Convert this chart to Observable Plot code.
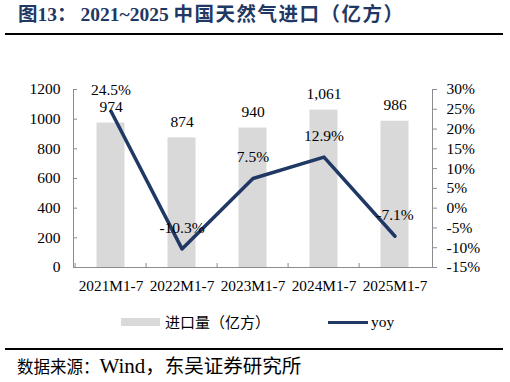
<!DOCTYPE html>
<html><head><meta charset="utf-8">
<script src="https://cdn.jsdelivr.net/npm/d3@7"></script>
<script src="https://cdn.jsdelivr.net/npm/@observablehq/plot@0.6"></script>
<style>
body{margin:0;background:#fff;}
#wrap{position:relative;width:510px;height:382px;overflow:hidden;font-family:"Liberation Serif","Noto Sans CJK SC",serif;color:#000;}
#title{position:absolute;left:18px;top:2px;font-size:19.5px;font-weight:bold;color:#1f3864;white-space:nowrap;line-height:26px;}
#title .cn{letter-spacing:1.5px;}
.rule{position:absolute;left:5px;width:498px;height:2px;background:#000;}
#chart{position:absolute;left:0;top:40px;}
#legend{position:absolute;left:0;top:312px;width:510px;height:20px;}
#legend .sw1{position:absolute;left:121px;top:6px;width:39px;height:8px;background:#d9d9d9;}
#legend .t1{position:absolute;left:165px;top:0;line-height:20px;font-family:"Noto Sans CJK SC";font-size:15px;}
#legend .sw2{position:absolute;left:328px;top:9px;width:40px;height:3px;background:#1f3864;}
#legend .t2{position:absolute;left:371px;top:0;line-height:20px;font-size:15.5px;}
#source{position:absolute;left:17px;top:353px;line-height:24px;white-space:nowrap;}
#source .s1{font-family:"Noto Sans CJK SC";font-size:16.5px;}
#source .s2{font-size:21px;}
#source .s3{font-family:"Noto Sans CJK SC";font-size:19.5px;}
</style></head>
<body>
<div id="wrap">
  <div id="title">图13：<span style="margin-left:4px">2021~2025</span> <span class="cn">中国天然气进口（亿方）</span></div>
  <div class="rule" style="top:33px"></div>
  <div id="chart"></div>
  <div id="legend"><div class="sw1"></div><div class="t1">进口量（亿方）</div><div class="sw2"></div><div class="t2">yoy</div></div>
  <div class="rule" style="top:348px"></div>
  <div id="source"><span class="s1">数据来源：</span><span class="s2">Wind</span><span class="s3">，东吴证券研究所</span></div>
</div>
<script>
const categories = ["2021M1-7","2022M1-7","2023M1-7","2024M1-7","2025M1-7"];
const imports = [974, 874, 940, 1061, 986];
const yoy = [24.5, -10.3, 7.5, 12.9, -7.1];
const importLabels = ["974","874","940","1,061","986"];
const yoyLabels = ["24.5%","-10.3%","7.5%","12.9%","-7.1%"];
const leftTicks = [0,200,400,600,800,1000,1200];
const rightTicks = [-15,-10,-5,0,5,10,15,20,25,30];

const lMax = leftTicks[leftTicks.length-1];
const rMin = rightTicks[0], rMax = rightTicks[rightTicks.length-1];
const toLeft = v => (v - rMin) / (rMax - rMin) * lMax;
const fromLeft = v => v / lMax * (rMax - rMin) + rMin;

const data = categories.map((c,i) => ({c, v: imports[i], y: toLeft(yoy[i]), vl: importLabels[i], yl: yoyLabels[i]}));

const W = 510, H = 260, mt = 49, mb = 33, ml = 73, mr = 78;
const bw = (W - ml - mr) / categories.length;
const tickUnits = 4 / (H - mt - mb) * lMax;
const gray = "#8c8c8c";
const navy = "#1f3864";

const chart = Plot.plot({
  width: W, height: H,
  marginTop: mt, marginBottom: mb, marginLeft: ml, marginRight: mr,
  style: {fontFamily: "Liberation Serif", fontSize: "15.5px", color: "#000", background: "transparent"},
  x: {domain: categories, paddingInner: 0, paddingOuter: 0, axis: null, label: null},
  y: {domain: [0, lMax], axis: null, label: null},
  marks: [
    Plot.barY(data, {x: "c", y: "v", fill: "#d9d9d9", insetLeft: 21.5, insetRight: 21.5}),
    Plot.frame({anchor: "left", stroke: gray}),
    Plot.frame({anchor: "right", stroke: gray}),
    Plot.frame({anchor: "bottom", stroke: gray}),
    Plot.ruleX(categories, {x: d => d, y1: 0, y2: tickUnits, dx: -bw/2, stroke: gray}),
    Plot.axisY(leftTicks, {anchor: "left", label: null, tickSize: -4, tickPadding: 17, stroke: gray, fill: "#000", fontSize: 15.5, tickFormat: d => String(d)}),
    Plot.axisY(rightTicks.map(toLeft), {anchor: "right", label: null, tickSize: 4, tickPadding: 10, stroke: gray, fill: "#000", fontSize: 15.5, tickFormat: d => Math.round(fromLeft(d)) + "%"}),
    Plot.axisX({anchor: "bottom", label: null, tickSize: 0, tickPadding: 13, fontSize: 15.3, fill: "#000"}),
    Plot.line(data, {x: "c", y: "y", stroke: navy, strokeWidth: 3.5}),
    Plot.text(data, {x: "c", y: "v", text: "vl", dy: -16, fontSize: 15.5, fill: "#000"}),
    Plot.text(data, {x: "c", y: "y", text: "yl", dy: -21, fontSize: 15.5, fill: "#000"})
  ]
});
document.getElementById("chart").appendChild(chart);
</script>
</body></html>
